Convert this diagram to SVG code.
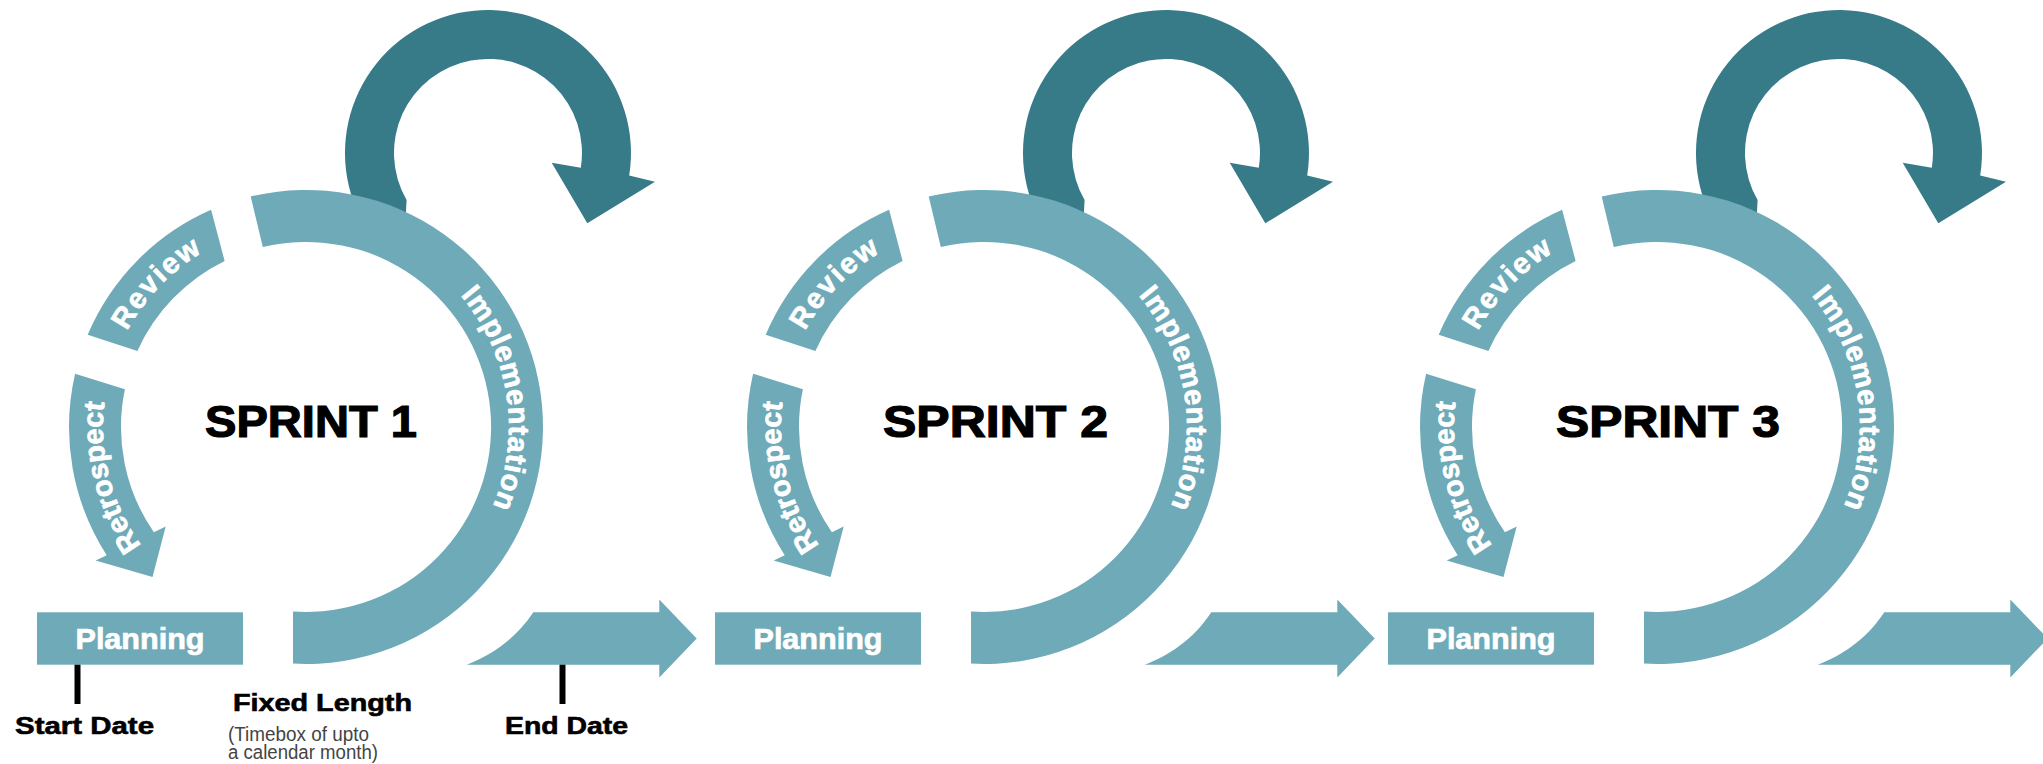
<svg xmlns="http://www.w3.org/2000/svg" width="2043" height="764" viewBox="0 0 2043 764">
<style>
.lt{fill:#6eaab8}
.dk{fill:#377b89}
.lbl{font-family:"Liberation Sans",Arial,sans-serif;font-weight:bold;font-size:29px;fill:#ffffff;stroke:#ffffff;stroke-width:0.7px}
.title{font-family:"Liberation Sans",Arial,sans-serif;font-weight:bold;font-size:44px;fill:#000000;stroke:#000000;stroke-width:1.2px}
.cap{font-family:"Liberation Sans",Arial,sans-serif;font-weight:bold;font-size:24px;fill:#000000;stroke:#000000;stroke-width:0.6px}
.sub{font-family:"Liberation Sans",Arial,sans-serif;font-size:20px;fill:#444444}
.tick{stroke:#000000;stroke-width:6}
</style>
<defs>
<path id="pImpl" d="M 293.3,224.4 A 203 203 0 0 1 353.7,624.3"/>
<path id="pRev" d="M 110.9,482.9 A 203 203 0 0 1 355.1,230.0"/>
<path id="pRet" d="M 286.2,629 A 203 203 0 0 1 191.3,259.5"/>
</defs>

<g id="sprint1">
  <g id="s1-loop"><path class="dk" d="M 353.6,201.9 A 143 143 0 1 1 629.2,175.4 L 655,181.7 L 587.3,223.3 L 551.7,162.7 L 580.8,167.7 A 94 94 0 1 0 406.6,200 L 405,230 Z"/></g>
  <g id="s1-implementation"><path class="lt" d="M 293,663.6 A 237 237 0 1 0 250.7,196.5 L 262.8,247.1 A 185 185 0 1 1 293,611.5 Z"/><text class="lbl" letter-spacing="0.8"><textPath href="#pImpl" startOffset="50%" text-anchor="middle">Implementation</textPath></text></g>
  <g id="s1-review"><path class="lt" d="M 87.7,334.8 A 237 237 0 0 1 211.1,209.8 L 224.6,260.9 A 185 185 0 0 0 137.4,350.9 Z"/><text class="lbl" letter-spacing="2"><textPath href="#pRev" startOffset="50%" text-anchor="middle">Review</textPath></text></g>
  <g id="s1-retrospect"><path class="lt" d="M 75.1,373.7 A 237 237 0 0 0 106.7,555.2 L 95.7,560.5 L 152.5,577 L 165.7,526.5 L 153.9,532.3 A 185 185 0 0 1 124.9,389.2 Z"/><text class="lbl"><textPath href="#pRet" startOffset="50%" text-anchor="middle">Retrospect</textPath></text></g>
  <g id="s1-planning"><rect class="lt" x="37" y="612.3" width="206" height="52.4"/><text class="lbl" x="140" y="649" text-anchor="middle" textLength="129" lengthAdjust="spacingAndGlyphs">Planning</text></g>
  <g id="s1-next"><path class="lt" d="M 466.7,664.7 C 490,656 515,640 533.3,612.3 L 659.3,612.3 L 659.3,599.5 L 696.7,638.5 L 659.3,677.5 L 659.3,664.7 Z"/></g>
  <g id="s1-title"><text class="title" x="205" y="437" textLength="212" lengthAdjust="spacingAndGlyphs">SPRINT 1</text></g>
</g>

<g id="sprint2" transform="translate(678,0)">
  <g id="s2-loop"><path class="dk" d="M 353.6,201.9 A 143 143 0 1 1 629.2,175.4 L 655,181.7 L 587.3,223.3 L 551.7,162.7 L 580.8,167.7 A 94 94 0 1 0 406.6,200 L 405,230 Z"/></g>
  <g id="s2-implementation"><path class="lt" d="M 293,663.6 A 237 237 0 1 0 250.7,196.5 L 262.8,247.1 A 185 185 0 1 1 293,611.5 Z"/><text class="lbl" letter-spacing="0.8"><textPath href="#pImpl" startOffset="50%" text-anchor="middle">Implementation</textPath></text></g>
  <g id="s2-review"><path class="lt" d="M 87.7,334.8 A 237 237 0 0 1 211.1,209.8 L 224.6,260.9 A 185 185 0 0 0 137.4,350.9 Z"/><text class="lbl" letter-spacing="2"><textPath href="#pRev" startOffset="50%" text-anchor="middle">Review</textPath></text></g>
  <g id="s2-retrospect"><path class="lt" d="M 75.1,373.7 A 237 237 0 0 0 106.7,555.2 L 95.7,560.5 L 152.5,577 L 165.7,526.5 L 153.9,532.3 A 185 185 0 0 1 124.9,389.2 Z"/><text class="lbl"><textPath href="#pRet" startOffset="50%" text-anchor="middle">Retrospect</textPath></text></g>
  <g id="s2-planning"><rect class="lt" x="37" y="612.3" width="206" height="52.4"/><text class="lbl" x="140" y="649" text-anchor="middle" textLength="129" lengthAdjust="spacingAndGlyphs">Planning</text></g>
  <g id="s2-next"><path class="lt" d="M 466.7,664.7 C 490,656 515,640 533.3,612.3 L 659.3,612.3 L 659.3,599.5 L 696.7,638.5 L 659.3,677.5 L 659.3,664.7 Z"/></g>
  <g id="s2-title"><text class="title" x="205" y="437" textLength="225" lengthAdjust="spacingAndGlyphs">SPRINT 2</text></g>
</g>

<g id="sprint3" transform="translate(1351,0)">
  <g id="s3-loop"><path class="dk" d="M 353.6,201.9 A 143 143 0 1 1 629.2,175.4 L 655,181.7 L 587.3,223.3 L 551.7,162.7 L 580.8,167.7 A 94 94 0 1 0 406.6,200 L 405,230 Z"/></g>
  <g id="s3-implementation"><path class="lt" d="M 293,663.6 A 237 237 0 1 0 250.7,196.5 L 262.8,247.1 A 185 185 0 1 1 293,611.5 Z"/><text class="lbl" letter-spacing="0.8"><textPath href="#pImpl" startOffset="50%" text-anchor="middle">Implementation</textPath></text></g>
  <g id="s3-review"><path class="lt" d="M 87.7,334.8 A 237 237 0 0 1 211.1,209.8 L 224.6,260.9 A 185 185 0 0 0 137.4,350.9 Z"/><text class="lbl" letter-spacing="2"><textPath href="#pRev" startOffset="50%" text-anchor="middle">Review</textPath></text></g>
  <g id="s3-retrospect"><path class="lt" d="M 75.1,373.7 A 237 237 0 0 0 106.7,555.2 L 95.7,560.5 L 152.5,577 L 165.7,526.5 L 153.9,532.3 A 185 185 0 0 1 124.9,389.2 Z"/><text class="lbl"><textPath href="#pRet" startOffset="50%" text-anchor="middle">Retrospect</textPath></text></g>
  <g id="s3-planning"><rect class="lt" x="37" y="612.3" width="206" height="52.4"/><text class="lbl" x="140" y="649" text-anchor="middle" textLength="129" lengthAdjust="spacingAndGlyphs">Planning</text></g>
  <g id="s3-next"><path class="lt" d="M 466.7,664.7 C 490,656 515,640 533.3,612.3 L 659.3,612.3 L 659.3,599.5 L 696.7,638.5 L 659.3,677.5 L 659.3,664.7 Z"/></g>
  <g id="s3-title"><text class="title" x="205" y="437" textLength="224" lengthAdjust="spacingAndGlyphs">SPRINT 3</text></g>
</g>

<g id="connectors">
  <line class="tick" x1="77.5" y1="664.7" x2="77.5" y2="704"/>
  <line class="tick" x1="562.5" y1="664.7" x2="562.5" y2="704"/>
</g>

<g id="timeline-labels">
  <text class="cap" x="15" y="734" textLength="139" lengthAdjust="spacingAndGlyphs">Start Date</text>
  <text class="cap" x="233" y="710.5" textLength="179" lengthAdjust="spacingAndGlyphs">Fixed Length</text>
  <text class="sub" x="228" y="741" textLength="141" lengthAdjust="spacingAndGlyphs">(Timebox of upto</text>
  <text class="sub" x="228" y="759" textLength="150" lengthAdjust="spacingAndGlyphs">a calendar month)</text>
  <text class="cap" x="505" y="734" textLength="123" lengthAdjust="spacingAndGlyphs">End Date</text>
</g>
</svg>
